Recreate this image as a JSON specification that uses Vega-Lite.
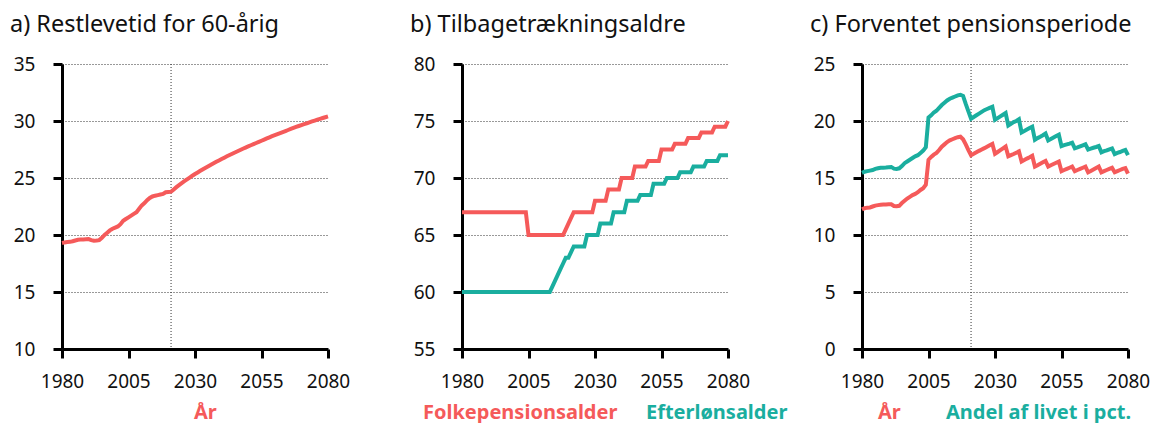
{
  "$schema": "https://vega.github.io/schema/vega-lite/v6.json",
  "background": "white",
  "padding": {"left": 10, "top": 12, "right": 0, "bottom": 0},
  "bounds": "flush",
  "spacing": 134,
  "config": {
    "view": {"stroke": null},
    "font": "Noto Sans",
    "title": {"anchor": "start", "frame": "group", "dx": -52, "fontSize": 23.5, "fontWeight": "normal", "font": "Noto Sans", "color": "#111", "offset": 19},
    "axis": {"domainColor": "#000", "domainWidth": 3, "tickColor": "#000", "tickWidth": 3, "tickSize": 9, "labelFont": "Noto Sans", "labelFontSize": 19, "labelColor": "#111", "title": null, "gridColor": "#333", "gridDash": [1, 2], "gridWidth": 1, "labelFlush": false, "labelOverlap": false},
    "axisY": {"labelPadding": 18, "grid": true},
    "axisX": {"labelPadding": 14, "grid": false},
    "legend": {"orient": "bottom", "direction": "horizontal", "title": null, "symbolSize": 0, "symbolOpacity": 0, "symbolStrokeWidth": 0, "labelFont": "Noto Sans", "labelFontSize": 20, "labelFontWeight": "bold", "labelOffset": 0, "labelLimit": 0, "columnPadding": 8, "offset": 12, "padding": 0, "layout": {"bottom": {"anchor": "middle"}}}
  },
  "datasets": {
    "rule": [{"year": 2021}],
    "a": [
      {"year":1980,"v":19.3,"s":"År"},{"year":1981,"v":19.35,"s":"År"},{"year":1982,"v":19.38,"s":"År"},{"year":1983,"v":19.4,"s":"År"},{"year":1984,"v":19.45,"s":"År"},{"year":1985,"v":19.52,"s":"År"},{"year":1986,"v":19.58,"s":"År"},{"year":1987,"v":19.6,"s":"År"},{"year":1988,"v":19.6,"s":"År"},{"year":1989,"v":19.62,"s":"År"},
      {"year":1990,"v":19.64,"s":"År"},{"year":1991,"v":19.55,"s":"År"},{"year":1992,"v":19.5,"s":"År"},{"year":1993,"v":19.52,"s":"År"},{"year":1994,"v":19.55,"s":"År"},{"year":1995,"v":19.75,"s":"År"},{"year":1996,"v":20.0,"s":"År"},{"year":1997,"v":20.2,"s":"År"},{"year":1998,"v":20.4,"s":"År"},{"year":1999,"v":20.55,"s":"År"},
      {"year":2000,"v":20.65,"s":"År"},{"year":2001,"v":20.75,"s":"År"},{"year":2002,"v":20.95,"s":"År"},{"year":2003,"v":21.25,"s":"År"},{"year":2004,"v":21.4,"s":"År"},{"year":2005,"v":21.55,"s":"År"},{"year":2006,"v":21.7,"s":"År"},{"year":2007,"v":21.85,"s":"År"},{"year":2008,"v":22.0,"s":"År"},{"year":2009,"v":22.3,"s":"År"},
      {"year":2010,"v":22.6,"s":"År"},{"year":2011,"v":22.8,"s":"År"},{"year":2012,"v":23.05,"s":"År"},{"year":2013,"v":23.25,"s":"År"},{"year":2014,"v":23.38,"s":"År"},{"year":2015,"v":23.45,"s":"År"},{"year":2016,"v":23.5,"s":"År"},{"year":2017,"v":23.55,"s":"År"},{"year":2018,"v":23.6,"s":"År"},{"year":2019,"v":23.75,"s":"År"},
      {"year":2020,"v":23.78,"s":"År"},{"year":2021,"v":23.8,"s":"År"},{"year":2022,"v":24.0,"s":"År"},{"year":2023,"v":24.2,"s":"År"},{"year":2024,"v":24.38,"s":"År"},{"year":2025,"v":24.55,"s":"År"},{"year":2026,"v":24.72,"s":"År"},{"year":2027,"v":24.88,"s":"År"},{"year":2028,"v":25.04,"s":"År"},{"year":2029,"v":25.2,"s":"År"},
      {"year":2030,"v":25.35,"s":"År"},{"year":2031,"v":25.49,"s":"År"},{"year":2032,"v":25.63,"s":"År"},{"year":2033,"v":25.77,"s":"År"},{"year":2034,"v":25.9,"s":"År"},{"year":2035,"v":26.03,"s":"År"},{"year":2036,"v":26.16,"s":"År"},{"year":2037,"v":26.29,"s":"År"},{"year":2038,"v":26.42,"s":"År"},{"year":2039,"v":26.54,"s":"År"},
      {"year":2040,"v":26.66,"s":"År"},{"year":2041,"v":26.78,"s":"År"},{"year":2042,"v":26.9,"s":"År"},{"year":2043,"v":27.02,"s":"År"},{"year":2044,"v":27.13,"s":"År"},{"year":2045,"v":27.24,"s":"År"},{"year":2046,"v":27.35,"s":"År"},{"year":2047,"v":27.46,"s":"År"},{"year":2048,"v":27.57,"s":"År"},{"year":2049,"v":27.67,"s":"År"},
      {"year":2050,"v":27.77,"s":"År"},{"year":2051,"v":27.87,"s":"År"},{"year":2052,"v":27.97,"s":"År"},{"year":2053,"v":28.07,"s":"År"},{"year":2054,"v":28.17,"s":"År"},{"year":2055,"v":28.27,"s":"År"},{"year":2056,"v":28.37,"s":"År"},{"year":2057,"v":28.47,"s":"År"},{"year":2058,"v":28.57,"s":"År"},{"year":2059,"v":28.67,"s":"År"},
      {"year":2060,"v":28.76,"s":"År"},{"year":2061,"v":28.85,"s":"År"},{"year":2062,"v":28.94,"s":"År"},{"year":2063,"v":29.03,"s":"År"},{"year":2064,"v":29.12,"s":"År"},{"year":2065,"v":29.21,"s":"År"},{"year":2066,"v":29.3,"s":"År"},{"year":2067,"v":29.39,"s":"År"},{"year":2068,"v":29.48,"s":"År"},{"year":2069,"v":29.56,"s":"År"},
      {"year":2070,"v":29.64,"s":"År"},{"year":2071,"v":29.72,"s":"År"},{"year":2072,"v":29.8,"s":"År"},{"year":2073,"v":29.88,"s":"År"},{"year":2074,"v":29.96,"s":"År"},{"year":2075,"v":30.04,"s":"År"},{"year":2076,"v":30.12,"s":"År"},{"year":2077,"v":30.19,"s":"År"},{"year":2078,"v":30.26,"s":"År"},{"year":2079,"v":30.33,"s":"År"},
      {"year":2080,"v":30.4,"s":"År"}
    ],
    "b": [
      {"year":1980,"v":67,"s":"Folkepensionsalder"},{"year":2004,"v":67,"s":"Folkepensionsalder"},{"year":2005,"v":65,"s":"Folkepensionsalder"},{"year":2018,"v":65,"s":"Folkepensionsalder"},{"year":2019,"v":65.5,"s":"Folkepensionsalder"},{"year":2020,"v":66,"s":"Folkepensionsalder"},{"year":2021,"v":66.5,"s":"Folkepensionsalder"},{"year":2022,"v":67,"s":"Folkepensionsalder"},{"year":2029,"v":67,"s":"Folkepensionsalder"},{"year":2030,"v":68,"s":"Folkepensionsalder"},{"year":2034,"v":68,"s":"Folkepensionsalder"},{"year":2035,"v":69,"s":"Folkepensionsalder"},{"year":2039,"v":69,"s":"Folkepensionsalder"},{"year":2040,"v":70,"s":"Folkepensionsalder"},{"year":2044,"v":70,"s":"Folkepensionsalder"},{"year":2045,"v":71,"s":"Folkepensionsalder"},{"year":2049,"v":71,"s":"Folkepensionsalder"},{"year":2050,"v":71.5,"s":"Folkepensionsalder"},{"year":2054,"v":71.5,"s":"Folkepensionsalder"},{"year":2055,"v":72.5,"s":"Folkepensionsalder"},{"year":2059,"v":72.5,"s":"Folkepensionsalder"},{"year":2060,"v":73,"s":"Folkepensionsalder"},{"year":2064,"v":73,"s":"Folkepensionsalder"},{"year":2065,"v":73.5,"s":"Folkepensionsalder"},{"year":2069,"v":73.5,"s":"Folkepensionsalder"},{"year":2070,"v":74,"s":"Folkepensionsalder"},{"year":2074,"v":74,"s":"Folkepensionsalder"},{"year":2075,"v":74.5,"s":"Folkepensionsalder"},{"year":2079,"v":74.5,"s":"Folkepensionsalder"},{"year":2080,"v":75,"s":"Folkepensionsalder"},
      {"year":1980,"v":60,"s":"Efterlønsalder"},{"year":2013,"v":60,"s":"Efterlønsalder"},{"year":2014,"v":60.5,"s":"Efterlønsalder"},{"year":2015,"v":61,"s":"Efterlønsalder"},{"year":2016,"v":61.5,"s":"Efterlønsalder"},{"year":2017,"v":62,"s":"Efterlønsalder"},{"year":2018,"v":62.5,"s":"Efterlønsalder"},{"year":2019,"v":63,"s":"Efterlønsalder"},{"year":2020,"v":63,"s":"Efterlønsalder"},{"year":2021,"v":63.5,"s":"Efterlønsalder"},{"year":2022,"v":64,"s":"Efterlønsalder"},{"year":2026,"v":64,"s":"Efterlønsalder"},{"year":2027,"v":65,"s":"Efterlønsalder"},{"year":2031,"v":65,"s":"Efterlønsalder"},{"year":2032,"v":66,"s":"Efterlønsalder"},{"year":2036,"v":66,"s":"Efterlønsalder"},{"year":2037,"v":67,"s":"Efterlønsalder"},{"year":2041,"v":67,"s":"Efterlønsalder"},{"year":2042,"v":68,"s":"Efterlønsalder"},{"year":2046,"v":68,"s":"Efterlønsalder"},{"year":2047,"v":68.5,"s":"Efterlønsalder"},{"year":2051,"v":68.5,"s":"Efterlønsalder"},{"year":2052,"v":69.5,"s":"Efterlønsalder"},{"year":2056,"v":69.5,"s":"Efterlønsalder"},{"year":2057,"v":70,"s":"Efterlønsalder"},{"year":2061,"v":70,"s":"Efterlønsalder"},{"year":2062,"v":70.5,"s":"Efterlønsalder"},{"year":2066,"v":70.5,"s":"Efterlønsalder"},{"year":2067,"v":71,"s":"Efterlønsalder"},{"year":2071,"v":71,"s":"Efterlønsalder"},{"year":2072,"v":71.5,"s":"Efterlønsalder"},{"year":2076,"v":71.5,"s":"Efterlønsalder"},{"year":2077,"v":72,"s":"Efterlønsalder"},{"year":2080,"v":72,"s":"Efterlønsalder"}
    ],
    "c": [
      {"year":1980,"v":12.25,"s":"År"},{"year":1981,"v":12.35,"s":"År"},{"year":1982,"v":12.4,"s":"År"},{"year":1983,"v":12.42,"s":"År"},{"year":1984,"v":12.5,"s":"År"},{"year":1985,"v":12.58,"s":"År"},{"year":1986,"v":12.62,"s":"År"},{"year":1987,"v":12.65,"s":"År"},{"year":1988,"v":12.68,"s":"År"},{"year":1989,"v":12.68,"s":"År"},
      {"year":1990,"v":12.7,"s":"År"},{"year":1991,"v":12.7,"s":"År"},{"year":1992,"v":12.55,"s":"År"},{"year":1993,"v":12.53,"s":"År"},{"year":1994,"v":12.56,"s":"År"},{"year":1995,"v":12.8,"s":"År"},{"year":1996,"v":13.0,"s":"År"},{"year":1997,"v":13.2,"s":"År"},{"year":1998,"v":13.35,"s":"År"},{"year":1999,"v":13.5,"s":"År"},
      {"year":2000,"v":13.6,"s":"År"},{"year":2001,"v":13.75,"s":"År"},{"year":2002,"v":13.95,"s":"År"},{"year":2003,"v":14.1,"s":"År"},{"year":2004,"v":14.4,"s":"År"},{"year":2005,"v":16.6,"s":"År"},{"year":2006,"v":16.85,"s":"År"},{"year":2007,"v":17.05,"s":"År"},{"year":2008,"v":17.2,"s":"År"},{"year":2009,"v":17.45,"s":"År"},
      {"year":2010,"v":17.75,"s":"År"},{"year":2011,"v":17.95,"s":"År"},{"year":2012,"v":18.15,"s":"År"},{"year":2013,"v":18.3,"s":"År"},{"year":2014,"v":18.4,"s":"År"},{"year":2015,"v":18.5,"s":"År"},{"year":2016,"v":18.58,"s":"År"},{"year":2017,"v":18.62,"s":"År"},{"year":2018,"v":18.4,"s":"År"},{"year":2019,"v":17.95,"s":"År"},
      {"year":2020,"v":17.45,"s":"År"},{"year":2021,"v":17.0,"s":"År"},{"year":2022,"v":17.12,"s":"År"},{"year":2023,"v":17.25,"s":"År"},{"year":2024,"v":17.38,"s":"År"},{"year":2025,"v":17.5,"s":"År"},{"year":2026,"v":17.62,"s":"År"},{"year":2027,"v":17.75,"s":"År"},{"year":2028,"v":17.88,"s":"År"},{"year":2029,"v":18.0,"s":"År"},
      {"year":2030,"v":17.12,"s":"År"},{"year":2031,"v":17.28,"s":"År"},{"year":2032,"v":17.44,"s":"År"},{"year":2033,"v":17.6,"s":"År"},{"year":2034,"v":17.76,"s":"År"},{"year":2035,"v":16.9,"s":"År"},{"year":2036,"v":17.0,"s":"År"},{"year":2037,"v":17.1,"s":"År"},{"year":2038,"v":17.22,"s":"År"},{"year":2039,"v":17.33,"s":"År"},
      {"year":2040,"v":16.45,"s":"År"},{"year":2041,"v":16.57,"s":"År"},{"year":2042,"v":16.7,"s":"År"},{"year":2043,"v":16.82,"s":"År"},{"year":2044,"v":16.95,"s":"År"},{"year":2045,"v":16.0,"s":"År"},{"year":2046,"v":16.12,"s":"År"},{"year":2047,"v":16.25,"s":"År"},{"year":2048,"v":16.38,"s":"År"},{"year":2049,"v":16.5,"s":"År"},
      {"year":2050,"v":16.0,"s":"År"},{"year":2051,"v":16.12,"s":"År"},{"year":2052,"v":16.23,"s":"År"},{"year":2053,"v":16.34,"s":"År"},{"year":2054,"v":16.45,"s":"År"},{"year":2055,"v":15.6,"s":"År"},{"year":2056,"v":15.7,"s":"År"},{"year":2057,"v":15.8,"s":"År"},{"year":2058,"v":15.9,"s":"År"},{"year":2059,"v":16.0,"s":"År"},
      {"year":2060,"v":15.6,"s":"År"},{"year":2061,"v":15.7,"s":"År"},{"year":2062,"v":15.8,"s":"År"},{"year":2063,"v":15.9,"s":"År"},{"year":2064,"v":16.0,"s":"År"},{"year":2065,"v":15.5,"s":"År"},{"year":2066,"v":15.62,"s":"År"},{"year":2067,"v":15.75,"s":"År"},{"year":2068,"v":15.88,"s":"År"},{"year":2069,"v":16.0,"s":"År"},
      {"year":2070,"v":15.5,"s":"År"},{"year":2071,"v":15.6,"s":"År"},{"year":2072,"v":15.7,"s":"År"},{"year":2073,"v":15.8,"s":"År"},{"year":2074,"v":15.9,"s":"År"},{"year":2075,"v":15.5,"s":"År"},{"year":2076,"v":15.6,"s":"År"},{"year":2077,"v":15.7,"s":"År"},{"year":2078,"v":15.8,"s":"År"},{"year":2079,"v":15.87,"s":"År"},
      {"year":2080,"v":15.38,"s":"År"},
      {"year":1980,"v":15.45,"s":"Andel af livet i pct."},{"year":1981,"v":15.55,"s":"Andel af livet i pct."},{"year":1982,"v":15.6,"s":"Andel af livet i pct."},{"year":1983,"v":15.65,"s":"Andel af livet i pct."},{"year":1984,"v":15.7,"s":"Andel af livet i pct."},{"year":1985,"v":15.8,"s":"Andel af livet i pct."},{"year":1986,"v":15.85,"s":"Andel af livet i pct."},{"year":1987,"v":15.9,"s":"Andel af livet i pct."},{"year":1988,"v":15.9,"s":"Andel af livet i pct."},{"year":1989,"v":15.92,"s":"Andel af livet i pct."},
      {"year":1990,"v":15.95,"s":"Andel af livet i pct."},{"year":1991,"v":15.97,"s":"Andel af livet i pct."},{"year":1992,"v":15.82,"s":"Andel af livet i pct."},{"year":1993,"v":15.8,"s":"Andel af livet i pct."},{"year":1994,"v":15.85,"s":"Andel af livet i pct."},{"year":1995,"v":16.05,"s":"Andel af livet i pct."},{"year":1996,"v":16.3,"s":"Andel af livet i pct."},{"year":1997,"v":16.45,"s":"Andel af livet i pct."},{"year":1998,"v":16.6,"s":"Andel af livet i pct."},{"year":1999,"v":16.75,"s":"Andel af livet i pct."},
      {"year":2000,"v":16.9,"s":"Andel af livet i pct."},{"year":2001,"v":17.0,"s":"Andel af livet i pct."},{"year":2002,"v":17.2,"s":"Andel af livet i pct."},{"year":2003,"v":17.4,"s":"Andel af livet i pct."},{"year":2004,"v":17.7,"s":"Andel af livet i pct."},{"year":2005,"v":20.3,"s":"Andel af livet i pct."},{"year":2006,"v":20.5,"s":"Andel af livet i pct."},{"year":2007,"v":20.75,"s":"Andel af livet i pct."},{"year":2008,"v":20.9,"s":"Andel af livet i pct."},{"year":2009,"v":21.15,"s":"Andel af livet i pct."},
      {"year":2010,"v":21.4,"s":"Andel af livet i pct."},{"year":2011,"v":21.6,"s":"Andel af livet i pct."},{"year":2012,"v":21.8,"s":"Andel af livet i pct."},{"year":2013,"v":21.95,"s":"Andel af livet i pct."},{"year":2014,"v":22.05,"s":"Andel af livet i pct."},{"year":2015,"v":22.15,"s":"Andel af livet i pct."},{"year":2016,"v":22.25,"s":"Andel af livet i pct."},{"year":2017,"v":22.3,"s":"Andel af livet i pct."},{"year":2018,"v":22.2,"s":"Andel af livet i pct."},{"year":2019,"v":21.5,"s":"Andel af livet i pct."},
      {"year":2020,"v":20.85,"s":"Andel af livet i pct."},{"year":2021,"v":20.2,"s":"Andel af livet i pct."},{"year":2022,"v":20.35,"s":"Andel af livet i pct."},{"year":2023,"v":20.5,"s":"Andel af livet i pct."},{"year":2024,"v":20.65,"s":"Andel af livet i pct."},{"year":2025,"v":20.8,"s":"Andel af livet i pct."},{"year":2026,"v":20.95,"s":"Andel af livet i pct."},{"year":2027,"v":21.05,"s":"Andel af livet i pct."},{"year":2028,"v":21.15,"s":"Andel af livet i pct."},{"year":2029,"v":21.25,"s":"Andel af livet i pct."},
      {"year":2030,"v":20.1,"s":"Andel af livet i pct."},{"year":2031,"v":20.25,"s":"Andel af livet i pct."},{"year":2032,"v":20.4,"s":"Andel af livet i pct."},{"year":2033,"v":20.55,"s":"Andel af livet i pct."},{"year":2034,"v":20.7,"s":"Andel af livet i pct."},{"year":2035,"v":19.6,"s":"Andel af livet i pct."},{"year":2036,"v":19.75,"s":"Andel af livet i pct."},{"year":2037,"v":19.9,"s":"Andel af livet i pct."},{"year":2038,"v":20.0,"s":"Andel af livet i pct."},{"year":2039,"v":20.15,"s":"Andel af livet i pct."},
      {"year":2040,"v":19.0,"s":"Andel af livet i pct."},{"year":2041,"v":19.12,"s":"Andel af livet i pct."},{"year":2042,"v":19.25,"s":"Andel af livet i pct."},{"year":2043,"v":19.38,"s":"Andel af livet i pct."},{"year":2044,"v":19.5,"s":"Andel af livet i pct."},{"year":2045,"v":18.35,"s":"Andel af livet i pct."},{"year":2046,"v":18.5,"s":"Andel af livet i pct."},{"year":2047,"v":18.62,"s":"Andel af livet i pct."},{"year":2048,"v":18.75,"s":"Andel af livet i pct."},{"year":2049,"v":18.9,"s":"Andel af livet i pct."},
      {"year":2050,"v":18.3,"s":"Andel af livet i pct."},{"year":2051,"v":18.42,"s":"Andel af livet i pct."},{"year":2052,"v":18.55,"s":"Andel af livet i pct."},{"year":2053,"v":18.68,"s":"Andel af livet i pct."},{"year":2054,"v":18.8,"s":"Andel af livet i pct."},{"year":2055,"v":17.8,"s":"Andel af livet i pct."},{"year":2056,"v":17.88,"s":"Andel af livet i pct."},{"year":2057,"v":17.95,"s":"Andel af livet i pct."},{"year":2058,"v":18.02,"s":"Andel af livet i pct."},{"year":2059,"v":18.1,"s":"Andel af livet i pct."},
      {"year":2060,"v":17.6,"s":"Andel af livet i pct."},{"year":2061,"v":17.68,"s":"Andel af livet i pct."},{"year":2062,"v":17.77,"s":"Andel af livet i pct."},{"year":2063,"v":17.86,"s":"Andel af livet i pct."},{"year":2064,"v":17.95,"s":"Andel af livet i pct."},{"year":2065,"v":17.5,"s":"Andel af livet i pct."},{"year":2066,"v":17.58,"s":"Andel af livet i pct."},{"year":2067,"v":17.65,"s":"Andel af livet i pct."},{"year":2068,"v":17.72,"s":"Andel af livet i pct."},{"year":2069,"v":17.8,"s":"Andel af livet i pct."},
      {"year":2070,"v":17.25,"s":"Andel af livet i pct."},{"year":2071,"v":17.35,"s":"Andel af livet i pct."},{"year":2072,"v":17.43,"s":"Andel af livet i pct."},{"year":2073,"v":17.52,"s":"Andel af livet i pct."},{"year":2074,"v":17.6,"s":"Andel af livet i pct."},{"year":2075,"v":17.1,"s":"Andel af livet i pct."},{"year":2076,"v":17.2,"s":"Andel af livet i pct."},{"year":2077,"v":17.28,"s":"Andel af livet i pct."},{"year":2078,"v":17.37,"s":"Andel af livet i pct."},{"year":2079,"v":17.45,"s":"Andel af livet i pct."},
      {"year":2080,"v":17.0,"s":"Andel af livet i pct."}
    ]
  },
  "resolve": {"scale": {"color": "independent", "x": "independent", "y": "independent"}, "legend": {"color": "independent"}},
  "hconcat": [
    {
      "width": 266, "height": 285,
      "title": "a) Restlevetid for 60-årig",
      "layer": [
        {"data": {"name": "rule"}, "mark": {"type": "rule", "color": "#333", "strokeWidth": 1, "strokeDash": [1, 2]},
         "encoding": {"x": {"field": "year", "type": "quantitative", "scale": {"domain": [1980, 2080], "nice": false, "zero": false}}}},
        {"data": {"name": "a"}, "mark": {"type": "line", "strokeWidth": 4},
         "encoding": {
           "x": {"field": "year", "type": "quantitative", "scale": {"domain": [1980, 2080], "nice": false, "zero": false}, "axis": {"values": [1980, 2005, 2030, 2055, 2080], "format": "d"}},
           "y": {"field": "v", "type": "quantitative", "scale": {"domain": [10, 35], "nice": false, "zero": false}, "axis": {"values": [10, 15, 20, 25, 30, 35]}},
           "color": {"field": "s", "type": "nominal", "scale": {"domain": ["År"], "range": ["#f55a5a"]},
             "legend": {"encode": {"labels": {"update": {"fill": {"value": "#f55a5a"}}}}}}
         }}
      ]
    },
    {
      "width": 266, "height": 285,
      "title": "b) Tilbagetrækningsaldre",
      "layer": [
        {"data": {"name": "b"}, "mark": {"type": "line", "strokeWidth": 4},
         "encoding": {
           "x": {"field": "year", "type": "quantitative", "scale": {"domain": [1980, 2080], "nice": false, "zero": false}, "axis": {"values": [1980, 2005, 2030, 2055, 2080], "format": "d"}},
           "y": {"field": "v", "type": "quantitative", "scale": {"domain": [55, 80], "nice": false, "zero": false}, "axis": {"values": [55, 60, 65, 70, 75, 80]}},
           "color": {"field": "s", "type": "nominal", "scale": {"domain": ["Folkepensionsalder", "Efterlønsalder"], "range": ["#f55a5a", "#1aae9f"]},
             "legend": {"columnPadding": 8, "encode": {"labels": {"update": {"fill": {"signal": "datum.value === 'Folkepensionsalder' ? '#f55a5a' : '#1aae9f'"}}}}}}
         }}
      ]
    },
    {
      "width": 266, "height": 285,
      "title": "c) Forventet pensionsperiode",
      "layer": [
        {"data": {"name": "rule"}, "mark": {"type": "rule", "color": "#333", "strokeWidth": 1, "strokeDash": [1, 2]},
         "encoding": {"x": {"field": "year", "type": "quantitative", "scale": {"domain": [1980, 2080], "nice": false, "zero": false}}}},
        {"data": {"name": "c"}, "mark": {"type": "line", "strokeWidth": 4},
         "encoding": {
           "x": {"field": "year", "type": "quantitative", "scale": {"domain": [1980, 2080], "nice": false, "zero": false}, "axis": {"values": [1980, 2005, 2030, 2055, 2080], "format": "d"}},
           "y": {"field": "v", "type": "quantitative", "scale": {"domain": [0, 25], "nice": false}, "axis": {"values": [0, 5, 10, 15, 20, 25]}},
           "color": {"field": "s", "type": "nominal", "scale": {"domain": ["År", "Andel af livet i pct."], "range": ["#f55a5a", "#1aae9f"]},
             "legend": {"columnPadding": 25, "encode": {"labels": {"update": {"fill": {"signal": "datum.value === 'År' ? '#f55a5a' : '#1aae9f'"}}}}}}
         }}
      ]
    }
  ]
}
